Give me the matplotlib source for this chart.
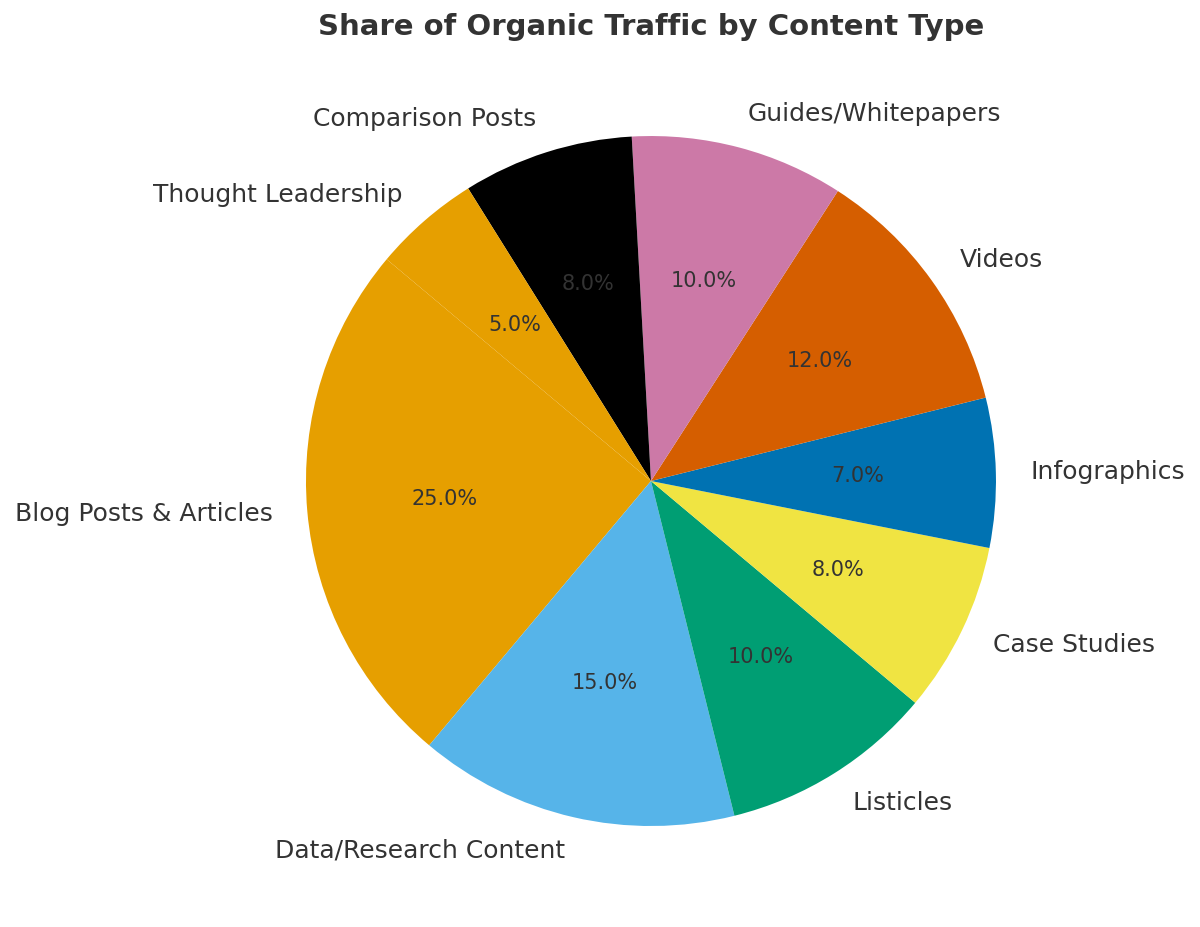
import matplotlib
matplotlib.use("Agg")
import matplotlib.pyplot as plt

categories = ["Blog Posts & Articles", "Data/Research Content", "Listicles", "Case Studies",
              "Infographics", "Videos", "Guides/Whitepapers", "Comparison Posts",
              "Thought Leadership"]
shares = [25, 15, 10, 8, 7, 12, 10, 8, 5]
colors = ["#E69F00", "#56B4E9", "#009E73", "#F0E442", "#0072B2", "#D55E00",
          "#CC79A7", "#000000", "#E69F00"]

text_color = "#333333"
plt.rcParams['font.family'] = ['DejaVu Sans']

fig = plt.figure(figsize=(12, 9.27), dpi=100)
ax = fig.add_axes([0.1831, 0.0159, 0.71875, 0.9304])
wedges, texts, autotexts = ax.pie(
    shares, labels=categories, colors=colors, autopct="%1.1f%%",
    startangle=140, counterclock=True,
    textprops={"color": text_color, "fontsize": 18},
)
for t in autotexts:
    t.set_fontsize(15)
    t.set_color(text_color)
ax.set_xlim(-1.25, 1.25)
ax.set_ylim(-1.25, 1.25)
ax.set_aspect("equal")
fig.text(651 / 1200, 1 - 13 / 927, "Share of Organic Traffic by Content Type",
         fontsize=21, fontweight="bold", color=text_color, ha="center", va="top")
fig.savefig("out.png", dpi=100)
